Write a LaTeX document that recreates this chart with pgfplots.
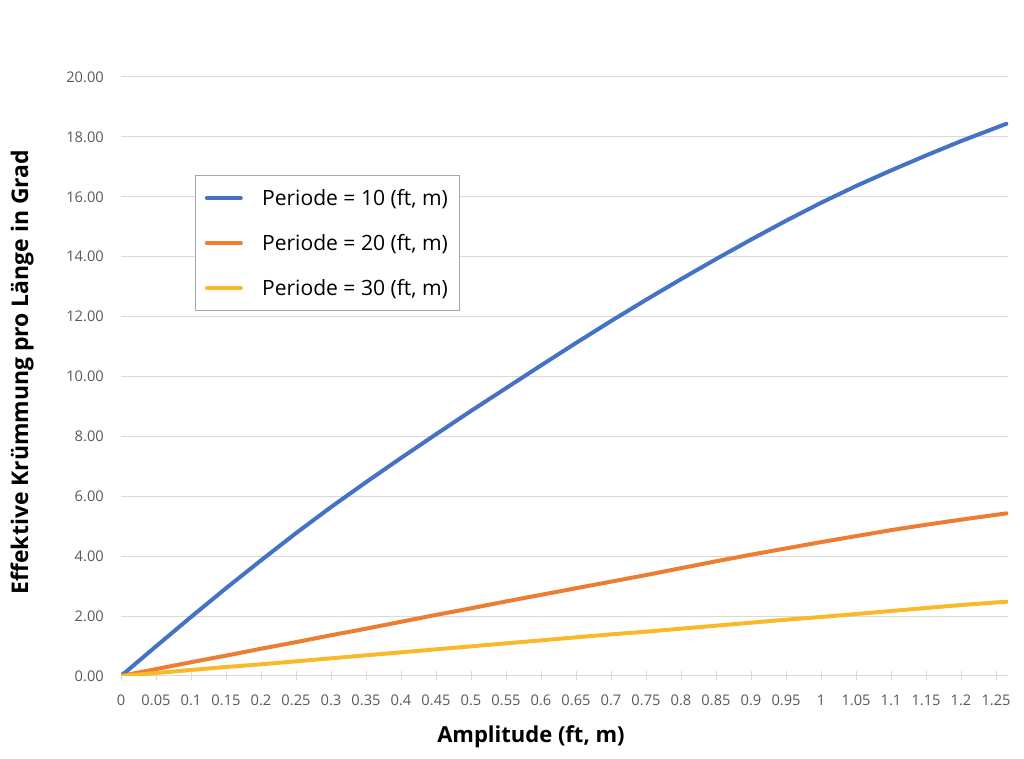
\documentclass[border=0pt]{standalone}
\usepackage{fontspec}
\setmainfont{Open Sans}
\usepackage{pgfplots}
\usepackage{pgfplotstable}
\pgfplotsset{compat=1.18}
\definecolor{sblue}{HTML}{4472C4}
\definecolor{sorange}{HTML}{ED7D31}
\definecolor{syellow}{HTML}{F8BA2A}
\definecolor{gridgray}{HTML}{D9D9D9}
\definecolor{ticktext}{HTML}{595959}
\definecolor{legframe}{HTML}{A6A6A6}

\pgfplotstableread{
x y
0 0
0.05 0.99
0.1 1.97
0.15 2.93
0.2 3.86
0.25 4.77
0.3 5.64
0.35 6.47
0.4 7.28
0.45 8.07
0.5 8.85
0.55 9.61
0.6 10.37
0.65 11.12
0.7 11.85
0.75 12.56
0.8 13.25
0.85 13.92
0.9 14.57
0.95 15.20
1.0 15.80
1.05 16.36
1.1 16.88
1.15 17.38
1.2 17.86
1.265 18.44
}\pten

\pgfplotstableread{
x y
0 0
0.05 0.23
0.1 0.46
0.15 0.68
0.2 0.91
0.25 1.13
0.3 1.36
0.35 1.58
0.4 1.81
0.45 2.04
0.5 2.26
0.55 2.49
0.6 2.71
0.65 2.93
0.7 3.15
0.75 3.37
0.8 3.60
0.85 3.83
0.9 4.05
0.95 4.26
1.0 4.47
1.05 4.67
1.1 4.87
1.15 5.05
1.2 5.22
1.265 5.43
}\ptwenty

\pgfplotstableread{
x y
0 0
0.05 0.10
0.1 0.20
0.15 0.30
0.2 0.39
0.25 0.49
0.3 0.59
0.35 0.69
0.4 0.79
0.45 0.89
0.5 0.99
0.55 1.09
0.6 1.19
0.65 1.29
0.7 1.39
0.75 1.48
0.8 1.58
0.85 1.68
0.9 1.78
0.95 1.88
1.0 1.97
1.05 2.07
1.1 2.17
1.15 2.27
1.2 2.37
1.265 2.48
}\pthirty

\begin{document}
\begin{tikzpicture}
\path[use as bounding box] (0,0) rectangle (768pt,569.25pt);
\begin{axis}[
  at={(90.75pt,62.25pt)}, anchor=south west,
  scale only axis, width=665.25pt, height=449.25pt,
  xmin=0, xmax=1.2671, ymin=0, ymax=20,
  xtick={0,0.05,0.1,0.15,0.2,0.25,0.3,0.35,0.4,0.45,0.5,0.55,0.6,0.65,0.7,0.75,0.8,0.85,0.9,0.95,1,1.05,1.1,1.15,1.2,1.25},
  xticklabels={0,0.05,0.1,0.15,0.2,0.25,0.3,0.35,0.4,0.45,0.5,0.55,0.6,0.65,0.7,0.75,0.8,0.85,0.9,0.95,1,1.05,1.1,1.15,1.2,1.25},
  ytick={0,2,4,6,8,10,12,14,16,18,20},
  yticklabel={\pgfmathprintnumber[fixed,fixed zerofill,precision=2]{\tick}},
  /pgf/number format/assume math mode=true,
  ymajorgrids, grid style={gridgray, line width=0.75pt},
  axis lines*=left,
  y axis line style={draw=none},
  x axis line style={gridgray, line width=0.75pt, -},
  ytick style={draw=none},
  xtick style={gridgray, line width=0.75pt},
  tick align=center, major tick length=6.75pt,
  ticklabel style={font=\fontsize{11}{13}\selectfont, text=ticktext},
  xticklabel style={yshift=-7.5pt},
  yticklabel style={xshift=-6pt},
  xlabel={Amplitude (ft, m)},
  ylabel={Effektive Krümmung pro Länge in Grad},
  xlabel style={at={(axis description cs:0.4622,-0.1018)}, anchor=center,
    font=\fontsize{16.5}{19}\selectfont\bfseries, text=black},
  ylabel style={at={(axis description cs:-0.1116,0.5075)}, anchor=center,
    font=\fontsize{17.2}{20}\selectfont\bfseries, text=black},
  legend cell align=left,
  legend style={at={(axis description cs:0.0834,0.836)}, anchor=north west,
    draw=legframe, line width=0.75pt, font=\fontsize{15.8}{18}\selectfont,
    row sep=16.25pt, inner xsep=7pt, inner ysep=8pt},
  legend image code/.code={\draw[#1] (1.5pt,0pt) -- (27pt,0pt); \path[draw=none] (0pt,0pt) -- (41pt,0pt);},
  every axis plot/.append style={line width=3pt, line join=round, line cap=round},
]
\addplot[sblue] table[x=x,y=y] {\pten};
\addlegendentry{Periode = 10 (ft, m)}
\addplot[sorange] table[x=x,y=y] {\ptwenty};
\addlegendentry{Periode = 20 (ft, m)}
\addplot[syellow] table[x=x,y=y] {\pthirty};
\addlegendentry{Periode = 30 (ft, m)}
\end{axis}
\end{tikzpicture}
\end{document}
